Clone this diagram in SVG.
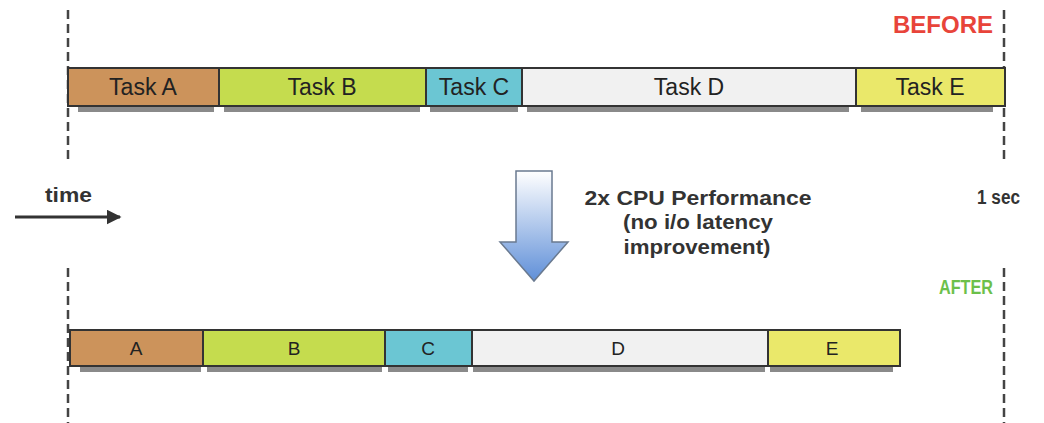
<svg xmlns="http://www.w3.org/2000/svg" width="1044" height="423" viewBox="0 0 1044 423">
<defs>
<style>
.bar{stroke:#333;stroke-width:2}
.shadow{fill:#8a8a8a}
.t{font-family:"Liberation Sans",Arial,sans-serif;font-size:23px;fill:#222;text-anchor:middle}
.s{font-family:"Liberation Sans",Arial,sans-serif;font-size:19px;fill:#222;text-anchor:middle}
.lbl{font-family:"Liberation Sans",Arial,sans-serif;font-size:17px;font-weight:bold;fill:#333}
.dash{stroke:#444;stroke-width:2.5;stroke-dasharray:9,5;fill:none}
</style>
<linearGradient id="ag" x1="0" y1="0" x2="0" y2="1">
<stop offset="0" stop-color="#ffffff"/>
<stop offset="1" stop-color="#5f8fd8"/>
</linearGradient>
<marker id="ah" viewBox="0 0 10 10" refX="9" refY="5" markerWidth="5" markerHeight="5" orient="auto">
<path d="M0,0 L10,5 L0,10 z" fill="#333"/>
</marker>
</defs>
<g id="guides">
<line class="dash" x1="68" y1="10" x2="68" y2="162"/>
<line class="dash" x1="1004" y1="10" x2="1004" y2="162"/>
<line class="dash" x1="68" y1="268" x2="68" y2="423"/>
<line class="dash" x1="1004" y1="268" x2="1004" y2="423"/>
</g>
<g id="labels">
<text x="993" y="33" class="lbl" style="fill:#e8443a;font-size:24px" text-anchor="end" textLength="100" lengthAdjust="spacingAndGlyphs">BEFORE</text>
<text x="993" y="294" class="lbl" style="fill:#6cc04a;font-size:21px" text-anchor="end" textLength="54" lengthAdjust="spacingAndGlyphs">AFTER</text>
<text x="45" y="202" class="lbl" style="font-size:20px" textLength="47" lengthAdjust="spacingAndGlyphs">time</text>
<text x="977" y="204" class="lbl" style="font-size:20px" textLength="43" lengthAdjust="spacingAndGlyphs">1 sec</text>
<text x="698" y="205" class="lbl" style="font-size:21px" text-anchor="middle" textLength="227" lengthAdjust="spacingAndGlyphs">2x CPU Performance</text>
<text x="698" y="229" class="lbl" style="font-size:21px" text-anchor="middle" textLength="150" lengthAdjust="spacingAndGlyphs">(no i/o latency</text>
<text x="697" y="254" class="lbl" style="font-size:21px" text-anchor="middle" textLength="147" lengthAdjust="spacingAndGlyphs">improvement)</text>
</g>
<g id="before">
<g id="taskA"><rect class="shadow" x="78" y="106" width="136" height="6"/><rect class="bar" x="68" y="68" width="151" height="38" fill="#cc935b"/><text class="t" x="143" y="95">Task A</text></g>
<g id="taskB"><rect class="shadow" x="224" y="106" width="196" height="6"/><rect class="bar" x="219" y="68" width="207" height="38" fill="#c5dc4e"/><text class="t" x="322" y="95">Task B</text></g>
<g id="taskC"><rect class="shadow" x="430" y="106" width="88" height="6"/><rect class="bar" x="426" y="68" width="96" height="38" fill="#6bc6d3"/><text class="t" x="474" y="95">Task C</text></g>
<g id="taskD"><rect class="shadow" x="527" y="106" width="322" height="6"/><rect class="bar" x="522" y="68" width="334" height="38" fill="#f1f1f1"/><text class="t" x="689" y="95">Task D</text></g>
<g id="taskE"><rect class="shadow" x="861" y="106" width="132" height="6"/><rect class="bar" x="856" y="68" width="149" height="38" fill="#eae86a"/><text class="t" x="930" y="95">Task E</text></g>
</g>
<g id="after">
<g id="A"><rect class="shadow" x="80" y="366" width="121" height="6"/><rect class="bar" x="70" y="330" width="133" height="36" fill="#cc935b"/><text class="s" x="136" y="355">A</text></g>
<g id="B"><rect class="shadow" x="207" y="366" width="175" height="6"/><rect class="bar" x="203" y="330" width="182" height="36" fill="#c5dc4e"/><text class="s" x="294" y="355">B</text></g>
<g id="C"><rect class="shadow" x="388" y="366" width="80" height="6"/><rect class="bar" x="385" y="330" width="87" height="36" fill="#6bc6d3"/><text class="s" x="428" y="355">C</text></g>
<g id="D"><rect class="shadow" x="473" y="366" width="292" height="6"/><rect class="bar" x="472" y="330" width="296" height="36" fill="#f1f1f1"/><text class="s" x="618" y="355">D</text></g>
<g id="E"><rect class="shadow" x="770" y="366" width="123" height="6"/><rect class="bar" x="768" y="330" width="132" height="36" fill="#eae86a"/><text class="s" x="832" y="355">E</text></g>
</g>
<g id="connectors">
<line x1="15" y1="217" x2="120" y2="217" stroke="#333" stroke-width="3" marker-end="url(#ah)"/>
<path d="M516,171 L552,171 L552,242 L568,242 L534,281 L500,242 L516,242 Z" fill="url(#ag)" stroke="#6a7a90" stroke-width="1.5"/>
</g>
</svg>
